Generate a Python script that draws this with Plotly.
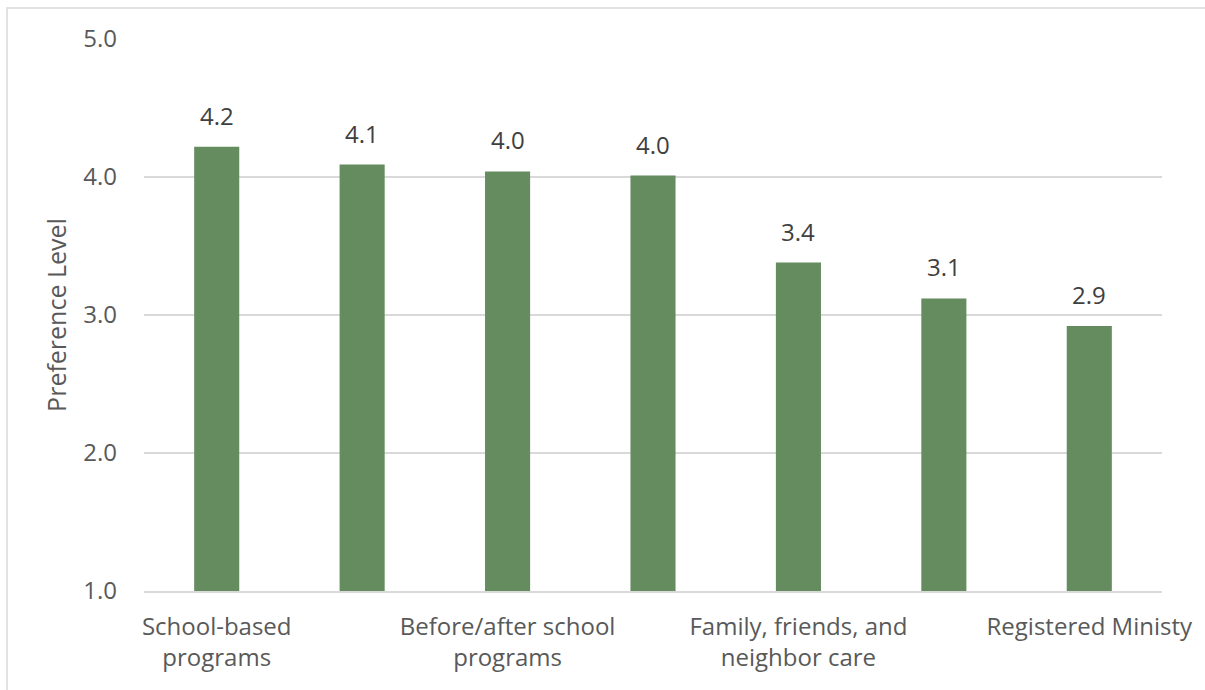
import plotly.graph_objects as go

# Average preference level by type of care
positions = [0, 1, 2, 3, 4, 5, 6]
values = [4.22, 4.09, 4.04, 4.01, 3.38, 3.12, 2.92]

# Only every other category carries an axis label
tick_positions = [0, 2, 4, 6]
tick_labels = [
    "School-based<br>programs",
    "Before/after school<br>programs",
    "Family, friends, and<br>neighbor care",
    "Registered Ministy",
]

y_ticks = [1.0, 2.0, 3.0, 4.0, 5.0]

TEXT = "#595959"
GRID = "#D9D9D9"
BAR = "#648C5F"
FONT = "Open Sans"

fig = go.Figure()
fig.add_trace(go.Bar(
    x=positions,
    y=values,
    marker=dict(color=BAR, line=dict(width=0)),
    hoverinfo="skip",
))

# Value labels above each bar
for xi, v in zip(positions, values):
    fig.add_annotation(
        x=xi, y=v, text=f"{v:.1f}", showarrow=False,
        yanchor="bottom", yshift=13,
        font=dict(family=FONT, size=24, color="#404040"),
    )

fig.update_layout(
    width=1205, height=690,
    margin=dict(l=144, r=43, t=39, b=99),
    paper_bgcolor="white", plot_bgcolor="white",
    bargap=0.69,
    showlegend=False,
    font=dict(family=FONT, color=TEXT, size=24),
    xaxis=dict(
        range=[-0.5, 6.5],
        tickvals=tick_positions, ticktext=tick_labels,
        showgrid=False, zeroline=False,
        showline=True, linecolor=GRID, linewidth=1.5,
        ticks="", ticklabelstandoff=13,
        tickfont=dict(family=FONT, size=24, color=TEXT),
    ),
    yaxis=dict(
        range=[1, 5], tickvals=y_ticks, tickformat=".1f",
        showgrid=True, gridcolor=GRID, gridwidth=1.5,
        zeroline=False, showline=False, ticks="",
        ticklabelstandoff=26,
        tickfont=dict(family=FONT, size=24, color=TEXT),
        title=dict(text="Preference Level", standoff=9,
                   font=dict(family=FONT, size=25, color=TEXT)),
    ),
    shapes=[dict(
        type="rect", xref="paper", yref="paper",
        x0=-137 / 1018, x1=1.05, y0=-0.3, y1=1 + 31 / 552,
        line=dict(color=GRID, width=1.5), fillcolor="rgba(0,0,0,0)",
        layer="below",
    )],
)

fig.write_html("out.html")
